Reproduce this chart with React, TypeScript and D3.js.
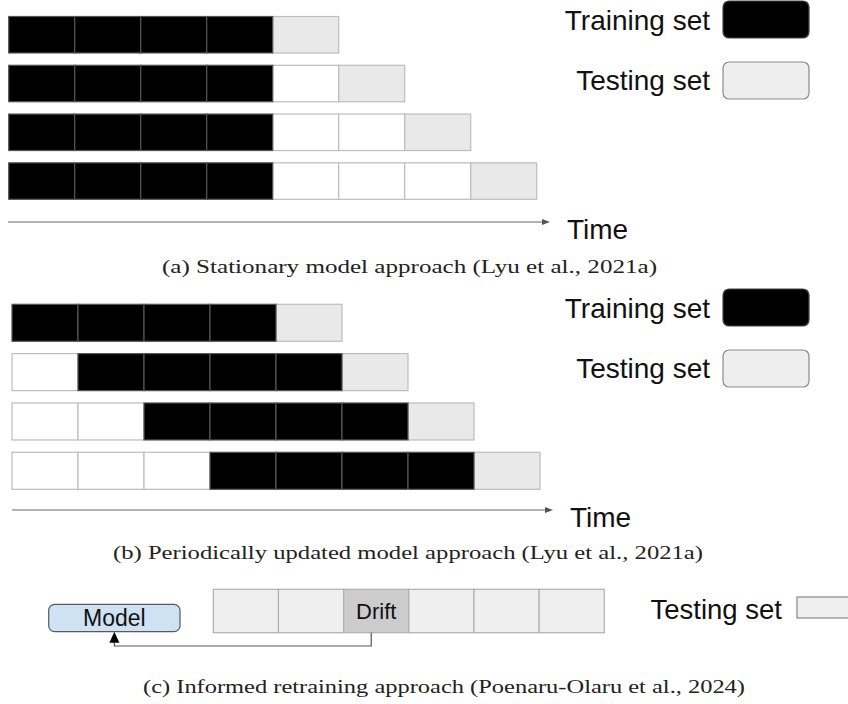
import React from 'react'
import * as d3 from 'd3'

// panel (a): stationary model - training stays fixed, test window moves right
const stationaryTrain = [4, 4, 4, 4]
const stationaryGap = [0, 1, 2, 3]
// panel (b): periodically updated - training window slides
const periodicLead = [0, 1, 2, 3]
const periodicTrain = [4, 4, 4, 4]
const testCount = 1
// panel (c): informed retraining stream
const streamCells = ['', '', 'Drift', '', '', '']
const driftIndex = 2

const legendLabels = ['Training set', 'Testing set']
const captions = [
    '(a) Stationary model approach (Lyu et al., 2021a)',
    '(b) Periodically updated model approach (Lyu et al., 2021a)',
    '(c) Informed retraining approach (Poenaru-Olaru et al., 2024)',
]

const SANS = '"Liberation Sans", Arial, sans-serif'
const SERIF = '"Liberation Serif", "DejaVu Serif", serif'

type Cell = { i: number; kind: string }

function buildRow(lead: number, train: number, gap: number): Cell[] {
    const cells: Cell[] = []
    let i = 0
    for (let k = 0; k < lead; k++) cells.push({ i: i++, kind: 'empty' })
    for (let k = 0; k < train; k++) cells.push({ i: i++, kind: 'train' })
    for (let k = 0; k < gap; k++) cells.push({ i: i++, kind: 'empty' })
    for (let k = 0; k < testCount; k++) cells.push({ i: i++, kind: 'test' })
    return cells
}

const fillFor = (k: string) => k === 'train' ? '#000' : k === 'test' ? '#e9e9e9' : '#fff'
const strokeFor = (k: string) => k === 'train' ? '#555' : '#bdbdbd'

function Grid({ rows, x, y }: { rows: Cell[][], x: d3.ScaleLinear<number, number>, y: d3.ScaleBand<number> }) {
    // light cells first so the darker training borders sit on top
    const order = (row: Cell[]) => [...row.filter(c => c.kind !== 'train'), ...row.filter(c => c.kind === 'train')]
    return (
        <g>
            {rows.map((row, r) => (
                <g key={r}>
                    {order(row).map(c => (
                        <rect key={c.i} x={x(c.i)} y={y(r)} width={x(c.i + 1) - x(c.i)} height={y.bandwidth()}
                            fill={fillFor(c.kind)} stroke={strokeFor(c.kind)} strokeWidth={1.2} />
                    ))}
                </g>
            ))}
        </g>
    )
}

function Legend({ top }: { top: number }) {
    const ly = d3.scaleBand<number>().domain([0, 1]).range([top, top + 98]).paddingInner(0.393)
    return (
        <g>
            {legendLabels.map((lab, i) => (
                <g key={lab}>
                    <text x={710} y={(ly(i) as number) + ly.bandwidth() / 2 + 10} textAnchor="end"
                        fontFamily={SANS} fontSize={28} fill="#111">{lab}</text>
                    <rect x={723} y={ly(i)} width={86} height={ly.bandwidth()} rx={6}
                        fill={i === 0 ? '#000' : '#eeeeee'} stroke={i === 0 ? '#444' : '#8a8a8a'} strokeWidth={1.2} />
                </g>
            ))}
        </g>
    )
}

function TimeAxis({ x0, x1, y }: { x0: number, x1: number, y: number }) {
    return (
        <g>
            <line x1={x0} x2={x1 - 6} y1={y} y2={y} stroke="#666" strokeWidth={1.2} />
            <path d={`M${x1},${y}L${x1 - 8},${y - 3}L${x1 - 8},${y + 3}Z`} fill="#555" />
            <text x={x1 + 17} y={y + 17} fontFamily={SANS} fontSize={28} fill="#111">Time</text>
        </g>
    )
}

export default function App() {
    const rowsA = stationaryTrain.map((t, r) => buildRow(0, t, stationaryGap[r]))
    const rowsB = periodicTrain.map((t, r) => buildRow(periodicLead[r], t, 0))

    const xA = d3.scaleLinear().domain([0, 8]).range([8.7, 536.7])
    const yA = d3.scaleBand<number>().domain(d3.range(4)).range([16.5, 199.3]).paddingInner(0.252)
    const xB = d3.scaleLinear().domain([0, 8]).range([12, 540])
    const yB = d3.scaleBand<number>().domain(d3.range(4)).range([304.3, 489.3]).paddingInner(0.25)

    const xC = d3.scaleLinear().domain([0, streamCells.length]).range([213.3, 604.3])
    const cTop = 589.3, cBot = 632.7
    const model = { x0: 48.7, x1: 180, y0: 604.3, y1: 631.7 }
    const modelCx = (model.x0 + model.x1) / 2
    const driftCx = xC(driftIndex + 0.5) - 5
    const loopY = 646

    return (
        <svg width={848} height={704} style={{ position: 'absolute', left: 0, top: 0, background: '#fff' }}>
            {/* (a) */}
            <Grid rows={rowsA} x={xA} y={yA} />
            <Legend top={1} />
            <TimeAxis x0={8} x1={550} y={222} />
            <text x={162} y={273} fontFamily={SERIF} fontSize={19.5} fill="#222"
                textLength={495} lengthAdjust="spacingAndGlyphs">{captions[0]}</text>

            {/* (b) */}
            <Grid rows={rowsB} x={xB} y={yB} />
            <Legend top={289} />
            <TimeAxis x0={12} x1={553} y={510} />
            <text x={113} y={559} fontFamily={SERIF} fontSize={19.5} fill="#222"
                textLength={590} lengthAdjust="spacingAndGlyphs">{captions[1]}</text>

            {/* (c) */}
            <rect x={model.x0} y={model.y0} width={model.x1 - model.x0} height={model.y1 - model.y0} rx={6}
                fill="#cfe2f3" stroke="#595959" strokeWidth={1.2} />
            <text x={modelCx} y={(model.y0 + model.y1) / 2 + 8} textAnchor="middle" fontFamily={SANS}
                fontSize={23} fill="#111">Model</text>
            {streamCells.map((lab, i) => (
                <g key={i}>
                    <rect x={xC(i)} y={cTop} width={xC(i + 1) - xC(i)} height={cBot - cTop}
                        fill={i === driftIndex ? '#cccccc' : '#efefef'} stroke="#b0b0b0" strokeWidth={1.2} />
                    {lab && <text x={xC(i + 0.5)} y={(cTop + cBot) / 2 + 8} textAnchor="middle"
                        fontFamily={SANS} fontSize={22} fill="#111">{lab}</text>}
                </g>
            ))}
            <path d={`M${driftCx},${cBot}V${loopY}H${modelCx}V${model.y1 + 10}`} fill="none" stroke="#555" strokeWidth={1.2} />
            <path d={`M${modelCx},${model.y1}L${modelCx - 5},${model.y1 + 11}L${modelCx + 5},${model.y1 + 11}Z`} fill="#000" />

            <text x={782} y={619} textAnchor="end" fontFamily={SANS} fontSize={27.5} fill="#111">{legendLabels[1]}</text>
            <rect x={797} y={597} width={70} height={21} fill="#efefef" stroke="#888" strokeWidth={1.2} />
            <text x={143} y={693} fontFamily={SERIF} fontSize={19.5} fill="#222"
                textLength={602} lengthAdjust="spacingAndGlyphs">{captions[2]}</text>
        </svg>
    )
}
